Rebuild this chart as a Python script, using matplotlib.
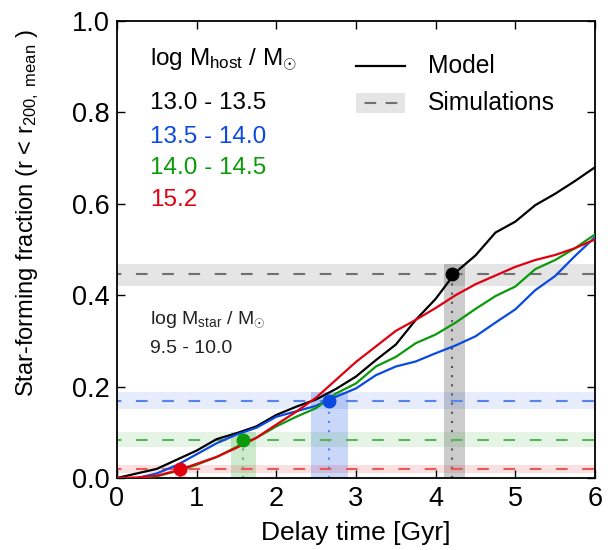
import numpy as np
import matplotlib
matplotlib.use("Agg")
import matplotlib.pyplot as plt
from matplotlib.patches import Rectangle

plt.rcParams['font.family'] = ['Liberation Sans', 'DejaVu Sans']
plt.rcParams['mathtext.fontset'] = 'custom'
plt.rcParams['mathtext.rm'] = 'Liberation Sans'
plt.rcParams['mathtext.it'] = 'Liberation Sans:italic'

# ---- data ----
delay = [0, 0.25, 0.5, 0.75, 1.0, 1.25, 1.5, 1.75, 2.0, 2.25, 2.5, 2.75, 3.0,
         3.25, 3.5, 3.75, 4.0, 4.25, 4.5, 4.75, 5.0, 5.25, 5.5, 5.75, 6.0]
frac_13_0 = [0.0, 0.01, 0.02, 0.04, 0.06, 0.085, 0.098, 0.113, 0.138, 0.156, 0.172,
             0.195, 0.222, 0.258, 0.292, 0.346, 0.392, 0.450, 0.487, 0.537, 0.561,
             0.597, 0.622, 0.650, 0.680]
frac_13_5 = [0.0, 0.0, 0.01, 0.028, 0.052, 0.076, 0.095, 0.110, 0.134, 0.146, 0.158,
             0.178, 0.196, 0.225, 0.244, 0.255, 0.273, 0.290, 0.310, 0.340, 0.369,
             0.411, 0.442, 0.486, 0.527]
frac_14_0 = [0.0, 0.0, 0.004, 0.015, 0.029, 0.046, 0.068, 0.088, 0.113, 0.134, 0.153,
             0.185, 0.207, 0.244, 0.265, 0.295, 0.314, 0.340, 0.370, 0.398, 0.419,
             0.457, 0.477, 0.503, 0.533]
frac_15_2 = [0.0, 0.001, 0.005, 0.016, 0.031, 0.046, 0.066, 0.088, 0.117, 0.145, 0.176,
             0.215, 0.254, 0.288, 0.322, 0.346, 0.372, 0.400, 0.424, 0.443, 0.462,
             0.477, 0.488, 0.503, 0.522]

labels = ['13.0 - 13.5', '13.5 - 14.0', '14.0 - 14.5', '15.2']
curves = [frac_13_0, frac_13_5, frac_14_0, frac_15_2]
# simulation fractions and uncertainties
sim_val = [0.446, 0.169, 0.083, 0.020]
sim_lo = [0.420, 0.152, 0.0685, 0.012]
sim_hi = [0.468, 0.1875, 0.1006, 0.028]
# matching delay times and their ranges
t_match = [4.21, 2.66, 1.577, 0.79]
t_lo = [4.107, 2.434, 1.43, 0.73]
t_hi = [4.366, 2.898, 1.748, 0.87]

colors = ['black', '#0a4ae0', '#0a9a0a', '#e00010']
dash_colors = ['#707070', '#5a82ee', '#5ab55a', '#e85a5a']
band_alpha_h = [0.10, 0.10, 0.10, 0.12]
band_alpha_v = [0.20, 0.22, 0.20, 0.15]

fig = plt.figure(figsize=(6.08, 5.5), dpi=100)
ax = fig.add_axes([117/608, 72/550, 478/608, 457/550])

for i in range(4):
    c = colors[i]
    ax.axhspan(sim_lo[i], sim_hi[i], color=c, alpha=band_alpha_h[i], lw=0, zorder=1)
    ax.add_patch(Rectangle((t_lo[i], 0), t_hi[i]-t_lo[i], sim_hi[i],
                           facecolor=c, alpha=band_alpha_v[i], lw=0, zorder=1))
    ax.axhline(sim_val[i], color=dash_colors[i], lw=1.5, ls=(3.5, (5.6, 7.0)), zorder=2)
    ax.plot([t_match[i], t_match[i]], [0, sim_val[i]], color=dash_colors[i] if i > 0 else '#555555',
            lw=1.5, ls=(0, (1, 3.4)), zorder=2)

for i in range(4):
    ax.plot(delay, curves[i], color=colors[i], lw=1.6, zorder=3)

for i in range(4):
    ax.plot([t_match[i]], [sim_val[i]], 'o', color=colors[i], ms=9, zorder=4)

ax.set_xlim(0, 6)
ax.set_ylim(0, 1.0)
ax.set_xticks(range(7))
ax.set_yticks([0.0, 0.2, 0.4, 0.6, 0.8, 1.0])
ax.set_yticklabels(['0.0', '0.2', '0.4', '0.6', '0.8', '1.0'])
ax.tick_params(direction='in', length=6, width=1.0, labelsize=19.5, top=True, right=True, pad=5)
ax.tick_params(axis='x', pad=6)
for s in ax.spines.values():
    s.set_linewidth(1.3)

ax.set_xlabel('Delay time [Gyr]', fontsize=19, labelpad=6)
ax.set_ylabel(r'Star-forming fraction (r < r$_{200,\ \mathrm{mean}}$ )', fontsize=17)
ax.yaxis.set_label_coords(-0.158, 0.58)

# left legend (host mass)
ax.text(0.41, 0.915, r'log M$_{\mathrm{host}}$ / M$_{\odot}$', fontsize=17.5, va='center', ha='left')
ys = [0.82, 0.746, 0.678, 0.608]
for i in range(4):
    ax.text(0.41, ys[i], labels[i], color=colors[i], fontsize=17.5, va='center', ha='left')

# right legend
ax.plot([3.0, 3.62], [0.902, 0.902], color='black', lw=1.6)
ax.text(3.9, 0.902, 'Model', fontsize=17.7, va='center', ha='left')
ax.add_patch(Rectangle((3.0, 0.799), 0.62, 0.043, facecolor='black', alpha=0.1, lw=0))
ax.plot([3.0, 3.62], [0.82, 0.82], color='#707070', lw=1.5, ls=(6, (5.6, 4.5)))
ax.text(3.9, 0.82, 'Simulations', fontsize=17.7, va='center', ha='left')

# stellar mass annotation
ax.text(0.41, 0.346, r'log M$_{\mathrm{star}}$ / M$_{\odot}$', fontsize=14, va='center', ha='left', color='#222222')
ax.text(0.41, 0.284, '9.5 - 10.0', fontsize=14, va='center', ha='left', color='#222222')

fig.savefig('out.png', dpi=100)
